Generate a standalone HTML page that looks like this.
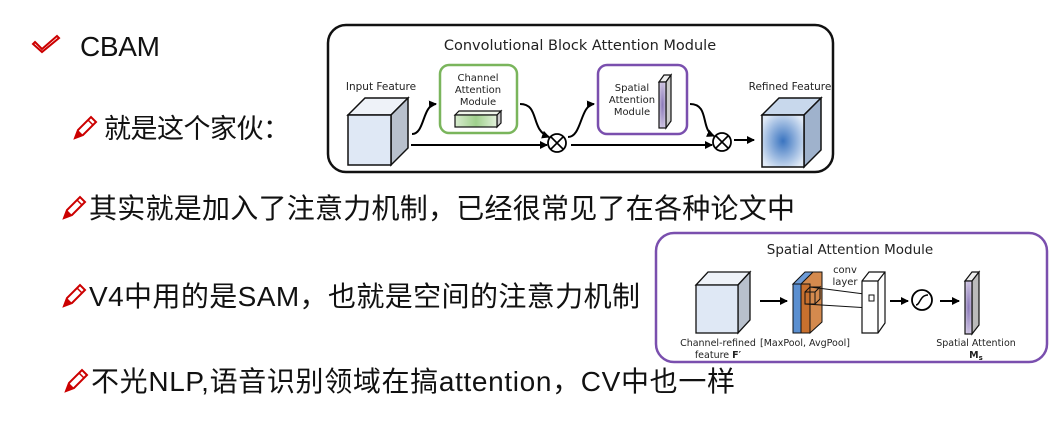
<!DOCTYPE html>
<html><head><meta charset="utf-8"><style>
html,body{margin:0;padding:0;background:#fff;width:1060px;height:428px;overflow:hidden}
svg{display:block}
.t{font-family:"Liberation Sans","Noto Sans CJK SC",sans-serif;fill:#111}
.s{font-family:"DejaVu Sans","Liberation Sans",sans-serif;fill:#222}
</style></head><body>
<svg width="1060" height="428" viewBox="0 0 1060 428" xmlns="http://www.w3.org/2000/svg">
<defs>
<marker id="ah" markerWidth="8" markerHeight="8" refX="7" refY="4" orient="auto" markerUnits="userSpaceOnUse"><path d="M0,0 L8,4 L0,8 z" fill="#000"/></marker>
<radialGradient id="rg" cx="0.5" cy="0.5" r="0.6"><stop offset="0" stop-color="#3a74c0"/><stop offset="1" stop-color="#dfe9f6"/></radialGradient>
<radialGradient id="pg" cx="0.5" cy="0.5" r="0.7"><stop offset="0" stop-color="#8a78b8"/><stop offset="1" stop-color="#e4ddef"/></radialGradient>
<linearGradient id="gg" x1="0" x2="1"><stop offset="0" stop-color="#d9ecd0"/><stop offset="0.5" stop-color="#9fd08c"/><stop offset="1" stop-color="#e3f1dc"/></linearGradient>
<g id="pen"><path d="M2,22 L5,14 L18,1 L23,6 L10,19 Z" fill="none" stroke="#c00" stroke-width="2"/><path d="M2,22 L5,14 L10,19 Z" fill="#c00"/><line x1="15" y1="4" x2="20" y2="9" stroke="#c00" stroke-width="1.5"/></g>
</defs>

<path d="M35,42 L42,49 L57,36 L59,38 L42,52 L33,44 Z" fill="none" stroke="#c00" stroke-width="2"/>
<text class="t" x="80" y="56" font-size="28" textLength="80">CBAM</text>
<use href="#pen" x="73" y="116"/>
<text class="t" x="104" y="138" font-size="27" textLength="186">就是这个家伙：</text>
<use href="#pen" x="62" y="196"/>
<text class="t" x="89" y="218" font-size="28" textLength="706">其实就是加入了注意力机制，已经很常见了在各种论文中</text>
<use href="#pen" x="62" y="284"/>
<text class="t" x="89" y="306" font-size="28" textLength="551">V4中用的是SAM，也就是空间的注意力机制</text>
<use href="#pen" x="64" y="369"/>
<text class="t" x="91" y="391" font-size="28" textLength="644">不光NLP,语音识别领域在搞attention，CV中也一样</text>

<rect x="328" y="25" width="505" height="147" rx="18" fill="#fff" stroke="#111" stroke-width="2.5"/>
<text class="s" x="580" y="50" font-size="14.5" text-anchor="middle">Convolutional Block Attention Module</text>
<text class="s" x="381" y="90" font-size="10.5" text-anchor="middle">Input Feature</text>
<path d="M348,115 L365,98 L408,98 L391,115 Z" fill="#eef2f8" stroke="#111" stroke-width="1.5"/>
<path d="M391,115 L408,98 L408,148 L391,165 Z" fill="#b8c0cc" stroke="#111" stroke-width="1.5"/>
<rect x="348" y="115" width="43" height="50" fill="#dfe8f5" stroke="#111" stroke-width="1.5"/>
<rect x="440" y="65" width="77" height="68" rx="9" fill="#fff" stroke="#7ab55c" stroke-width="2.5"/>
<text class="s" x="478" y="81" font-size="10" text-anchor="middle">Channel</text>
<text class="s" x="478" y="93" font-size="10" text-anchor="middle">Attention</text>
<text class="s" x="478" y="105" font-size="10" text-anchor="middle">Module</text>
<path d="M455,115 L459,111 L501,111 L497,115 Z" fill="#eef5ea" stroke="#111" stroke-width="1.2"/>
<path d="M497,115 L501,111 L501,123 L497,127 Z" fill="#ccc" stroke="#111" stroke-width="1.2"/>
<rect x="455" y="115" width="42" height="12" fill="url(#gg)" stroke="#111" stroke-width="1.2"/>
<rect x="598" y="65" width="89" height="69" rx="9" fill="#fff" stroke="#7a4fae" stroke-width="2.5"/>
<text class="s" x="632" y="91" font-size="10" text-anchor="middle">Spatial</text>
<text class="s" x="632" y="103" font-size="10" text-anchor="middle">Attention</text>
<text class="s" x="632" y="115" font-size="10" text-anchor="middle">Module</text>
<path d="M659,82 L664,75 L671,75 L666,82 Z" fill="#eee" stroke="#111" stroke-width="1.2"/>
<path d="M666,82 L671,75 L671,121 L666,128 Z" fill="#ccc" stroke="#111" stroke-width="1.2"/>
<rect x="659" y="82" width="7" height="46" fill="url(#pg)" stroke="#111" stroke-width="1.2"/>
<path d="M412,134 C425,134 422,105 436,104" fill="none" stroke="#000" stroke-width="2" marker-end="url(#ah)"/>
<path d="M520,104 C540,104 530,130 549,137" fill="none" stroke="#000" stroke-width="2" marker-end="url(#ah)"/>
<line x1="411" y1="145" x2="547" y2="145" stroke="#000" stroke-width="2" marker-end="url(#ah)"/>
<circle cx="557" cy="143" r="9" fill="#fff" stroke="#000" stroke-width="1.8"/>
<path d="M551,137 L563,149 M563,137 L551,149" stroke="#000" stroke-width="1.6"/>
<path d="M568,137 C582,137 580,105 594,104" fill="none" stroke="#000" stroke-width="2" marker-end="url(#ah)"/>
<path d="M690,104 C710,104 700,130 714,136" fill="none" stroke="#000" stroke-width="2" marker-end="url(#ah)"/>
<line x1="571" y1="145" x2="712" y2="145" stroke="#000" stroke-width="2" marker-end="url(#ah)"/>
<circle cx="722" cy="142" r="9" fill="#fff" stroke="#000" stroke-width="1.8"/>
<path d="M716,136 L728,148 M728,136 L716,148" stroke="#000" stroke-width="1.6"/>
<line x1="734" y1="140" x2="754" y2="140" stroke="#000" stroke-width="2" marker-end="url(#ah)"/>
<text class="s" x="790" y="90" font-size="10.5" text-anchor="middle">Refined Feature</text>
<path d="M762,115 L779,98 L821,98 L804,115 Z" fill="#c8d8ec" stroke="#111" stroke-width="1.5"/>
<path d="M804,115 L821,98 L821,150 L804,167 Z" fill="#9fb2cc" stroke="#111" stroke-width="1.5"/>
<rect x="762" y="115" width="42" height="52" fill="url(#rg)" stroke="#111" stroke-width="1.5"/>

<rect x="656" y="233" width="391" height="129" rx="18" fill="#fff" stroke="#7a4fae" stroke-width="2.5"/>
<text class="s" x="850" y="254" font-size="13.5" text-anchor="middle">Spatial Attention Module</text>
<path d="M696,285 L708,272 L750,272 L738,285 Z" fill="#eef2f8" stroke="#111" stroke-width="1.3"/>
<path d="M738,285 L750,272 L750,320 L738,333 Z" fill="#b8c0cc" stroke="#111" stroke-width="1.3"/>
<rect x="696" y="285" width="42" height="48" fill="#dfe8f5" stroke="#111" stroke-width="1.3"/>
<line x1="760" y1="301" x2="787" y2="301" stroke="#000" stroke-width="2" marker-end="url(#ah)"/>
<path d="M793,284 L805,272 L821,272 L809,284 Z" fill="#6d9bd6" stroke="#111" stroke-width="1"/>
<rect x="793" y="284" width="8" height="49" fill="#5b8fd0" stroke="#111" stroke-width="1"/>
<path d="M801,284 L813,272 L822,272 L822,322 L810,333 Z" fill="#d48a4e" stroke="#111" stroke-width="1"/>
<rect x="801" y="284" width="9" height="49" fill="#c8702e" stroke="#111" stroke-width="1"/>
<rect x="805" y="292" width="10" height="12" fill="none" stroke="#111" stroke-width="1"/>
<path d="M805,292 L810,287 L820,287 L815,292 M815,292 L820,287 L820,299 L815,304" fill="none" stroke="#111" stroke-width="1"/>
<line x1="810" y1="287" x2="872" y2="295" stroke="#111" stroke-width="1"/>
<line x1="805" y1="304" x2="870" y2="308" stroke="#111" stroke-width="1"/>
<text class="s" x="845" y="273" font-size="10" text-anchor="middle">conv</text>
<text class="s" x="845" y="285" font-size="10" text-anchor="middle">layer</text>
<path d="M862,281 L869,272 L885,272 L885,323 L878,333 L862,333 Z" fill="#fff" stroke="#111" stroke-width="1.2"/>
<path d="M862,281 L878,281 L885,272 M878,281 L878,333" fill="none" stroke="#111" stroke-width="1.2"/>
<rect x="869" y="295" width="5" height="6" fill="none" stroke="#111" stroke-width="1"/>
<line x1="890" y1="301" x2="908" y2="301" stroke="#000" stroke-width="2" marker-end="url(#ah)"/>
<circle cx="922" cy="300" r="10" fill="#fff" stroke="#000" stroke-width="1.8"/>
<path d="M916,305 C920,305 920,295 928,295" fill="none" stroke="#000" stroke-width="1.5"/>
<line x1="940" y1="301" x2="959" y2="301" stroke="#000" stroke-width="2" marker-end="url(#ah)"/>
<path d="M965,281 L972,272 L979,272 L972,281 Z" fill="#eee" stroke="#111" stroke-width="1.2"/>
<path d="M972,281 L979,272 L979,325 L972,334 Z" fill="#bbb" stroke="#111" stroke-width="1.2"/>
<rect x="965" y="281" width="7" height="53" fill="url(#pg)" stroke="#111" stroke-width="1.2"/>
<text class="s" x="718" y="346" font-size="9.5" text-anchor="middle">Channel-refined</text>
<text class="s" x="718" y="358" font-size="9.5" text-anchor="middle">feature <tspan font-weight="bold">F′</tspan></text>
<text class="s" x="805" y="346" font-size="9.5" text-anchor="middle">[MaxPool, AvgPool]</text>
<text class="s" x="976" y="346" font-size="9.5" text-anchor="middle">Spatial Attention</text>
<text class="s" x="976" y="358" font-size="9.5" text-anchor="middle" font-weight="bold">M<tspan font-size="7" dy="2">s</tspan></text>
</svg>
</body></html>
